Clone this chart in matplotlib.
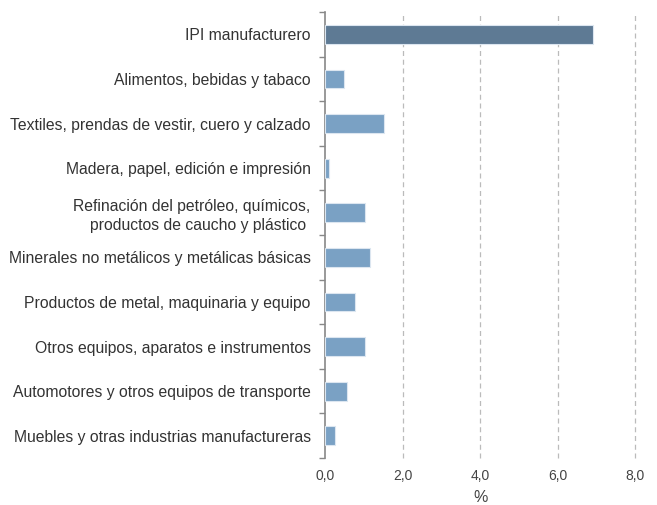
import matplotlib.pyplot as plt
import numpy as np

categories = [
    "IPI manufacturero",
    "Alimentos, bebidas y tabaco",
    "Textiles, prendas de vestir, cuero y calzado",
    "Madera, papel, edición e impresión",
    "Refinación del petróleo, químicos,\nproductos de caucho y plástico ",
    "Minerales no metálicos y metálicas básicas",
    "Productos de metal, maquinaria y equipo",
    "Otros equipos, aparatos e instrumentos",
    "Automotores y otros equipos de transporte",
    "Muebles y otras industrias manufactureras",
]
values = [6.92, 0.49, 1.52, 0.10, 1.03, 1.16, 0.77, 1.03, 0.57, 0.26]
xticks = [0, 2, 4, 6, 8]
xticklabels = ["0,0", "2,0", "4,0", "6,0", "8,0"]

plt.rcParams['font.family'] = ['Liberation Sans', 'DejaVu Sans']

fig = plt.figure(figsize=(6.57, 5.05), dpi=100)
ax = fig.add_axes([0.495, 0.093, 0.472, 0.883])

y = np.arange(len(categories))
colors = ["#5e7a94"] + ["#7aa1c4"] * (len(categories) - 1)
ax.barh(y, values, height=0.42, color=colors, edgecolor="#dce6f0", linewidth=0.8, zorder=3)

ax.set_ylim(len(categories) - 0.5, -0.5)
ax.set_xlim(0, 8)
ax.set_yticks(y)
ax.set_yticklabels(categories, fontsize=11.3, color="#333333", linespacing=1.3)
ax.set_yticks(np.arange(-0.5, len(categories), 1), minor=True)
ax.tick_params(axis='y', which='major', length=0, pad=10.5)
ax.tick_params(axis='y', which='minor', length=4, color="#888888", width=1)

ax.set_xticks(xticks)
ax.set_xticklabels(xticklabels, fontsize=10, color="#444444")
ax.tick_params(axis='x', length=0, pad=8)
ax.set_xlabel("%", fontsize=11.5, color="#444444", labelpad=5)

for xv in xticks[1:]:
    ax.axvline(xv, color="#bbbbbb", linestyle=(0, (4, 3)), linewidth=0.9, zorder=1, clip_on=False)

for s in ["top", "right", "bottom"]:
    ax.spines[s].set_visible(False)
ax.spines["left"].set_color("#888888")
ax.spines["left"].set_linewidth(1.2)

fig.savefig("out.png", dpi=100)
